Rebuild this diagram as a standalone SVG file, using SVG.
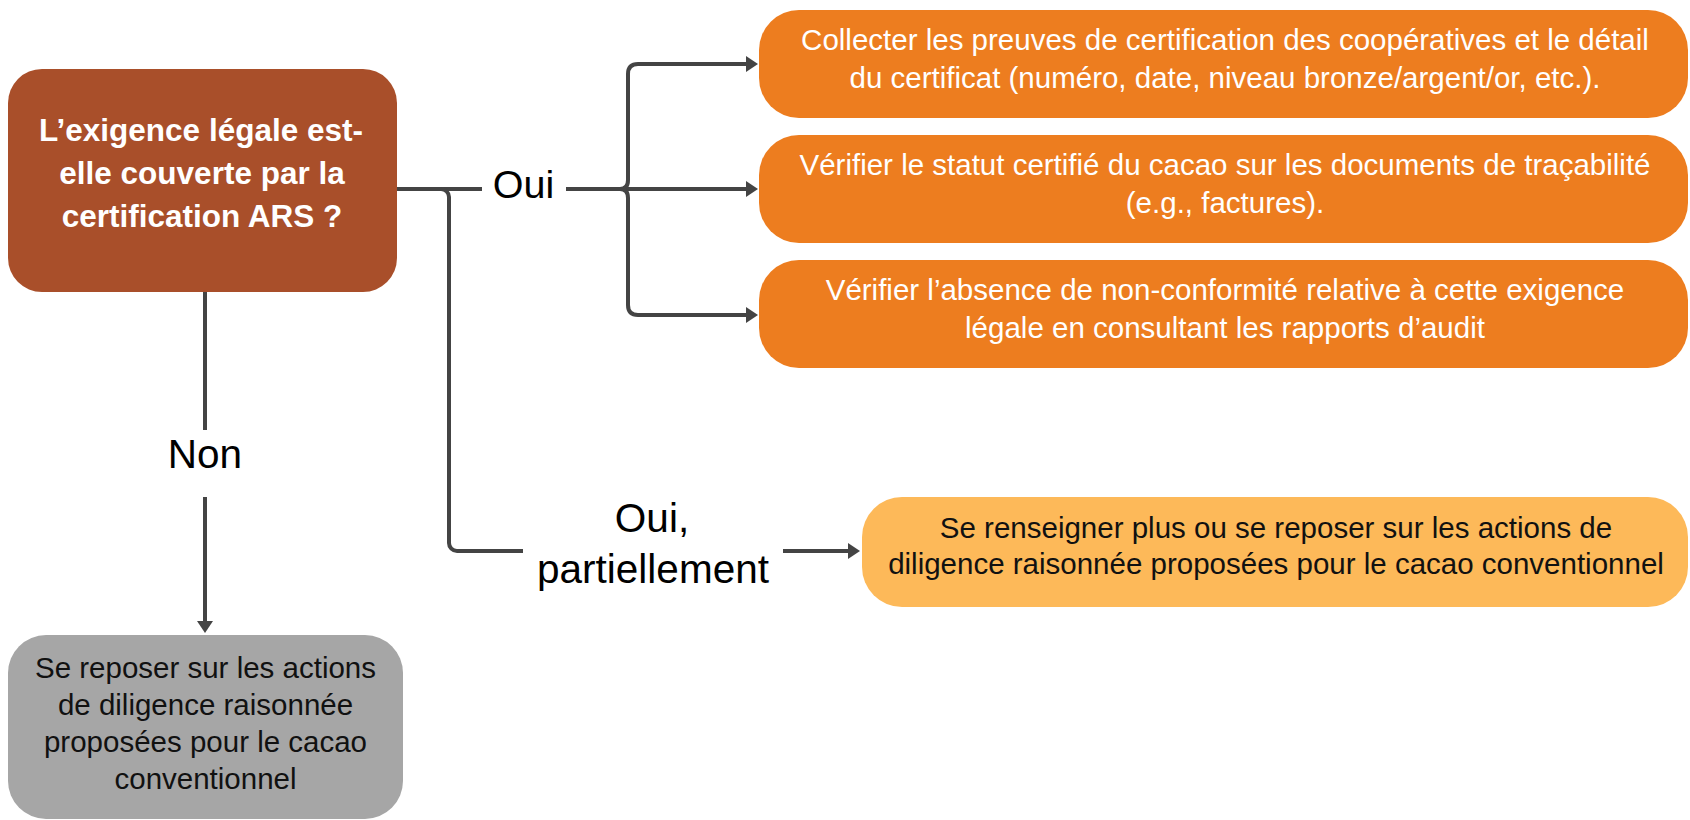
<svg xmlns="http://www.w3.org/2000/svg" width="1690" height="820" viewBox="0 0 1690 820">
<style>
.t{font-family:"Liberation Sans",Arial,sans-serif;text-anchor:middle}
.w{fill:#ffffff;font-size:29.5px}
.k{fill:#111111;font-size:29.5px}
.q{fill:#ffffff;font-size:31.5px;font-weight:bold}
.lbl{fill:#000000;font-size:40.5px}
.ln{fill:none;stroke:#444444;stroke-width:4}
</style>
<defs>
<marker id="ah" viewBox="0 0 12 16" markerWidth="12" markerHeight="16" refX="4" refY="8" orient="auto" markerUnits="userSpaceOnUse">
<path d="M0,0 L12,8 L0,16 z" fill="#444444"/>
</marker>
</defs>
<rect width="1690" height="820" fill="#ffffff"/>
<g id="connectors">
<path class="ln" d="M397,189 H482"/>
<path class="ln" d="M441,189 A8,8 0 0 1 449,197 V543 A8,8 0 0 0 457,551 H523"/>
<path class="ln" d="M566,189 H750" marker-end="url(#ah)"/>
<path class="ln" d="M620,189 Q628,189 628,180 V74 Q628,64 638,64 H750" marker-end="url(#ah)"/>
<path class="ln" d="M620,189 Q628,189 628,198 V305 Q628,315 638,315 H750" marker-end="url(#ah)"/>
<path class="ln" d="M783,551 H852" marker-end="url(#ah)"/>
<path class="ln" d="M205,292 V430"/>
<path class="ln" d="M205,497 V625" marker-end="url(#ah)"/>
<text class="t lbl" x="523.5" y="198" style="font-size:39.5px">Oui</text>
<text class="t lbl" x="652" y="532">Oui,</text>
<text class="t lbl" x="653" y="583">partiellement</text>
<text class="t lbl" x="205" y="468">Non</text>
</g>
<g id="q">
<rect x="8" y="69" width="389" height="223" rx="34" fill="#A94F2A"/>
<text class="t q" x="201" y="141">L’exigence légale est-</text>
<text class="t q" x="202" y="184">elle couverte par la</text>
<text class="t q" x="202" y="227">certification ARS ?</text>
</g>
<g id="a1">
<rect x="759" y="10" width="929" height="108" rx="40" fill="#ED7D1F"/>
<text class="t w" x="1225" y="50">Collecter les preuves de certification des coopératives et le détail</text>
<text class="t w" x="1225" y="88">du certificat (numéro, date, niveau bronze/argent/or, etc.).</text>
</g>
<g id="a2">
<rect x="759" y="135" width="929" height="108" rx="40" fill="#ED7D1F"/>
<text class="t w" x="1225" y="175">Vérifier le statut certifié du cacao sur les documents de traçabilité</text>
<text class="t w" x="1225" y="213">(e.g., factures).</text>
</g>
<g id="a3">
<rect x="759" y="260" width="929" height="108" rx="40" fill="#ED7D1F"/>
<text class="t w" x="1225" y="300">Vérifier l’absence de non-conformité relative à cette exigence</text>
<text class="t w" x="1225" y="338">légale en consultant les rapports d’audit</text>
</g>
<g id="partial">
<rect x="862" y="497" width="826" height="110" rx="40" fill="#FDB959"/>
<text class="t k" x="1276" y="538">Se renseigner plus ou se reposer sur les actions de</text>
<text class="t k" x="1276" y="574">diligence raisonnée proposées pour le cacao conventionnel</text>
</g>
<g id="non">
<rect x="8" y="635" width="395" height="184" rx="38" fill="#A6A6A6"/>
<text class="t k" x="205.5" y="678">Se reposer sur les actions</text>
<text class="t k" x="205.5" y="715">de diligence raisonnée</text>
<text class="t k" x="205.5" y="752">proposées pour le cacao</text>
<text class="t k" x="205.5" y="789">conventionnel</text>
</g>
</svg>
